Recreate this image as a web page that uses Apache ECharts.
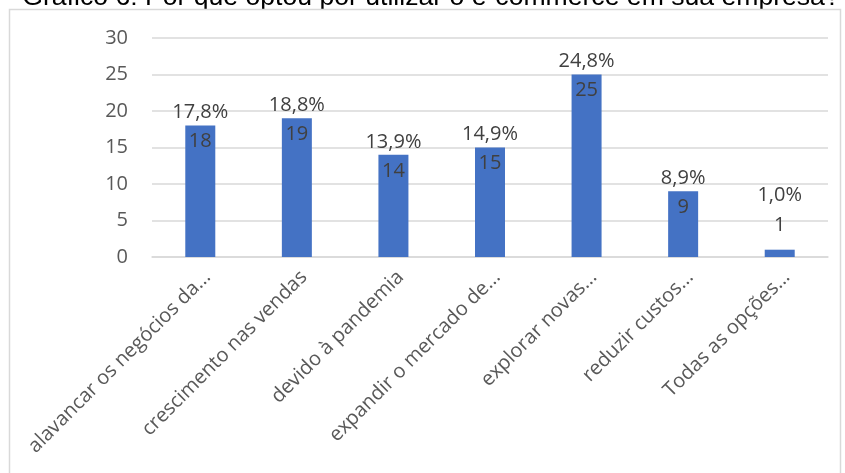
<!DOCTYPE html>
<html>
<head>
<meta charset="utf-8">
<script src="https://cdn.jsdelivr.net/npm/echarts@6/dist/echarts.min.js"></script>
<style>
html,body{margin:0;padding:0;background:#fff;}
#chart{width:845px;height:473px;}
</style>
</head>
<body>
<div id="chart"></div>
<script>
const titleText = 'Gráfico 6: Por que optou por utilizar o e-commerce em sua empresa?';
const categories = ['alavancar os negócios da...', 'crescimento nas vendas', 'devido à pandemia', 'expandir o mercado de...', 'explorar novas...', 'reduzir custos...', 'Todas as opções...'];
const counts = [18, 19, 14, 15, 25, 9, 1];
const percentLabels = ['17,8%', '18,8%', '13,9%', '14,9%', '24,8%', '8,9%', '1,0%'];
const yMin = 0, yMax = 30, yStep = 5;

const chart = echarts.init(document.getElementById('chart'), null, {renderer: 'canvas'});
const labelFont = 'Open Sans';
const smallLimit = 3;

const valueData = counts.map(v => v < smallLimit
  ? {value: v, label: {position: 'top', distance: 14}}
  : {value: v});
const pctData = counts.map(v => v < smallLimit
  ? {value: v, label: {distance: 44}}
  : {value: v});

chart.setOption({
  animation: false,
  graphic: {
    elements: [
      {type: 'text', x: 431, y: -16, z: -2,
       style: {text: titleText, fontFamily: 'Liberation Sans', fontSize: 26.6, fill: '#000', align: 'center', verticalAlign: 'top'}},
      {type: 'rect', shape: {x: 9.5, y: 9.5, width: 831, height: 600}, z: -1,
       style: {fill: '#fff', stroke: '#d9d9d9', lineWidth: 1.5}}
    ]
  },
  grid: {left: 152, right: 17, top: 38, bottom: 216, containLabel: false},
  xAxis: {
    type: 'category',
    data: categories,
    axisTick: {show: false},
    axisLine: {lineStyle: {color: '#d9d9d9', width: 1.5}},
    axisLabel: {rotate: 45, interval: 0, fontSize: 20, color: '#595959', fontFamily: labelFont, margin: 10, verticalAlign: 'top'}
  },
  yAxis: {
    type: 'value',
    min: yMin, max: yMax, interval: yStep,
    axisLine: {show: false},
    axisTick: {show: false},
    splitLine: {lineStyle: {color: '#d9d9d9', width: 1.5}},
    axisLabel: {fontSize: 20, color: '#595959', fontFamily: labelFont, margin: 24}
  },
  series: [
    {
      type: 'bar',
      data: valueData,
      barWidth: 30,
      itemStyle: {color: '#4472C4'},
      label: {show: true, position: 'insideTop', distance: 6, fontSize: 20, color: '#404040', fontFamily: labelFont}
    },
    {
      type: 'bar',
      data: pctData,
      barWidth: 30,
      barGap: '-100%',
      silent: true,
      itemStyle: {color: 'rgba(0,0,0,0)'},
      label: {show: true, position: 'top', distance: 3, fontSize: 20, color: '#404040', fontFamily: labelFont,
        formatter: p => percentLabels[p.dataIndex]}
    }
  ]
});
</script>
</body>
</html>
